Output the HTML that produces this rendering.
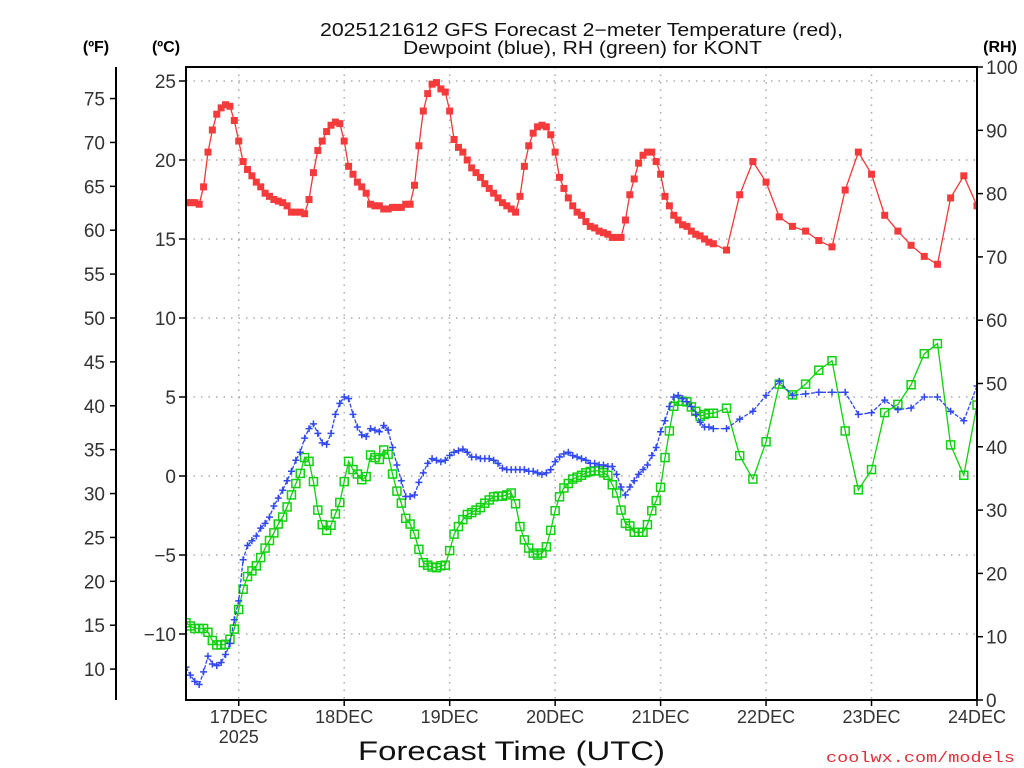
<!DOCTYPE html>
<html><head><meta charset="utf-8"><style>
html,body{margin:0;padding:0;background:#fff;}
svg{display:block;font-family:"Liberation Sans",sans-serif;}
</style></head><body>
<svg id="chart" width="1024" height="768" viewBox="0 0 1024 768" xmlns="http://www.w3.org/2000/svg">
<defs><clipPath id="plotclip"><rect x="186" y="67" width="791" height="633"/></clipPath></defs>
<text x="320" y="36" font-size="18" textLength="523" lengthAdjust="spacingAndGlyphs" fill="#111">2025121612 GFS Forecast 2−meter Temperature (red),</text>
<text x="403" y="54" font-size="18" textLength="359" lengthAdjust="spacingAndGlyphs" fill="#111">Dewpoint (blue), RH (green) for KONT</text>
<text x="96" y="52" font-size="16" font-weight="bold" text-anchor="middle">(ºF)</text>
<text x="166" y="52" font-size="16" font-weight="bold" text-anchor="middle">(ºC)</text>
<text x="1000" y="52" font-size="16" font-weight="bold" text-anchor="middle">(RH)</text>
<g id="grid"></g>
<g id="axes"></g>
<g id="series" clip-path="url(#plotclip)"></g>
<rect x="186" y="67" width="791" height="633" fill="none" stroke="#000" stroke-width="2"/>
<line x1="116" y1="67" x2="116" y2="700" stroke="#000" stroke-width="2"/>
<text x="358" y="760" font-size="27" textLength="307" lengthAdjust="spacingAndGlyphs" fill="#111">Forecast Time (UTC)</text>
<text x="826" y="762" font-size="15" textLength="189" lengthAdjust="spacingAndGlyphs" fill="#e0303a" font-family="Liberation Mono, monospace">coolwx.com/models</text>
</svg>
<script>
const celsiusTicks=[25,20,15,10,5,0,-5,-10];
const fahrenheitTicks=[75,70,65,60,55,50,45,40,35,30,25,20,15,10];
const rhTicks=[100,90,80,70,60,50,40,30,20,10,0];
const dayLabels=["17DEC","18DEC","19DEC","20DEC","21DEC","22DEC","23DEC","24DEC"];
const dayHours=[12,36,60,84,108,132,156,180];
const tempC=[17.3,17.3,17.3,17.2,18.3,20.5,21.9,22.9,23.3,23.5,
23.4,22.5,21.2,19.9,19.4,19.0,18.6,18.3,17.9,17.7,
17.5,17.4,17.3,17.1,16.7,16.7,16.7,16.6,17.5,19.2,
20.6,21.2,21.8,22.2,22.4,22.3,21.2,19.6,19.1,18.6,
18.3,17.9,17.2,17.1,17.1,16.9,16.9,17.0,17.0,17.0,
17.2,17.2,18.4,20.9,23.1,24.2,24.8,24.9,24.5,24.3,
23.1,21.3,20.8,20.5,20.0,19.5,19.2,18.9,18.5,18.2,
17.9,17.6,17.3,17.1,16.9,16.7,17.7,19.6,20.9,21.7,
22.1,22.2,22.1,21.6,20.5,18.9,18.2,17.6,17.1,16.7,
16.5,16.1,15.8,15.7,15.5,15.4,15.3,15.1,15.1,15.1,
16.2,17.8,18.8,19.8,20.3,20.5,20.5,19.9,19.1,17.7,
17.1,16.5,16.2,15.9,15.8,15.5,15.3,15.2,15.0,14.8,
14.7,
14.3,17.8,19.9,18.6,16.4,15.8,15.5,14.9,14.5,18.1,20.5,19.1,16.5,15.5,14.6,13.9,13.4,17.6,19.0,17.1];
const dewC=[-12.1,-12.6,-13.0,-13.2,-12.4,-11.4,-11.9,-12.0,-11.8,-11.3,
-10.6,-9.1,-7.9,-5.3,-4.4,-4.1,-3.8,-3.3,-3.0,-2.6,
-1.9,-1.4,-0.9,-0.3,0.3,1.0,1.5,2.4,3.0,3.3,
2.7,2.1,2.0,2.7,3.9,4.6,5.0,4.9,3.9,3.1,
2.6,2.5,3.0,2.9,2.8,3.2,2.9,1.8,0.7,-0.3,
-1.3,-1.3,-1.2,
-0.4,0.2,0.8,1.1,1.0,0.9,1.0,1.3,1.5,1.6,
1.7,1.5,1.2,1.2,1.1,1.1,1.1,1.0,0.8,0.5,
0.4,0.4,0.4,0.4,0.4,0.3,0.3,0.2,0.1,0.2,
0.4,0.9,1.2,1.4,1.5,1.3,1.2,1.1,1.0,0.8,
0.8,0.7,0.7,0.6,0.6,0.1,-0.7,-1.2,-0.7,-0.3,
0.1,
0.4,0.7,1.3,1.8,2.8,3.5,4.4,5.0,5.1,4.9,4.7,4.4,3.9,3.4,3.1,3.1,3.0,
3.0,3.6,4.1,5.1,6.0,5.1,5.2,5.3,5.3,5.3,3.9,4.0,4.8,4.2,4.3,5.0,5.0,4.1,3.5,5.7];
const rhPct=[12.2,11.7,11.3,11.3,11.3,10.7,9.4,8.7,8.7,8.8,
9.6,11.2,14.3,17.5,19.5,20.4,21.2,22.5,24.0,25.2,
26.4,27.8,28.9,30.5,32.4,34.2,35.8,38.3,37.7,34.5,
30.0,27.7,26.8,27.6,29.4,31.2,34.5,37.7,36.4,35.7,
34.8,35.3,38.7,38.3,38.0,39.5,38.8,35.7,33.0,31.1,
28.7,27.8,26.2,23.8,21.7,21.3,21.0,20.9,
21.2,21.3,23.6,26.2,27.4,28.5,29.3,29.6,30.0,30.4,
31.1,31.6,32.1,32.2,32.2,32.4,32.7,31.0,27.4,25.3,
24.0,23.2,22.9,23.2,24.2,26.8,29.9,32.1,33.5,34.2,
34.9,35.2,35.5,35.9,36.1,36.2,36.2,35.9,35.5,34.0,
32.7,30.0,27.9,27.5,26.5,26.5,26.5,27.7,29.9,31.5,
33.6,38.3,42.5,46.4,47.2,47.2,47.1,46.3,45.6,44.8,45.1,45.3,45.3,
46.1,38.6,34.9,40.8,49.9,48.2,49.9,52.1,53.6,42.5,33.2,36.4,45.4,46.7,49.8,54.7,56.3,40.3,35.5,46.6];
const forecastHours=[];
for(let h=0;h<=120;h++)forecastHours.push(h);
for(let h=123;h<=180;h+=3)forecastHours.push(h);

const NS="http://www.w3.org/2000/svg";
const xS=h=>186+h*(791/180);
const yC=c=>476-c*15.8;
const yRH=r=>700-r*6.33;
function mk(tag,attrs,parent){const e=document.createElementNS(NS,tag);for(const k in attrs)e.setAttribute(k,attrs[k]);parent.appendChild(e);return e;}
const grid=document.getElementById('grid'),axes=document.getElementById('axes'),series=document.getElementById('series');

celsiusTicks.forEach(c=>{
  const y=yC(c);
  const g=mk('line',{x1:186,x2:977,y1:y,y2:y,stroke:'#aaa','stroke-width':1.5,'stroke-dasharray':'1.5 6'},grid);
  
  
  const t=mk('line',{x1:179,x2:186,y1:y,y2:y,stroke:'#000','stroke-width':1.5},axes);
  
  
  const l=mk('text',{x:176,y:y+7,'font-size':19,'text-anchor':'end',fill:'#333'},axes);
  l.textContent=c<0?'−'+Math.abs(c):String(c);
  
  
});
fahrenheitTicks.forEach(f=>{
  const y=yC((f-32)*5/9);
  const t=mk('line',{x1:110,x2:116,y1:y,y2:y,stroke:'#000','stroke-width':1.5},axes);
  
  
  const l=mk('text',{x:105,y:y+7,'font-size':19,'text-anchor':'end',fill:'#333'},axes);
  l.textContent=String(f);
  
  
});
rhTicks.forEach(r=>{
  const y=yRH(r);
  const t=mk('line',{x1:977,x2:983,y1:y,y2:y,stroke:'#000','stroke-width':1.5},axes);
  
  
  const l=mk('text',{x:986,y:y+7,'font-size':19,'text-anchor':'start',fill:'#333'},axes);
  l.textContent=String(r);
  
  
});
dayHours.forEach((h,i)=>{
  const x=xS(h);
  if(i<dayHours.length-1){
    const g=mk('line',{x1:x,x2:x,y1:67,y2:700,stroke:'#aaa','stroke-width':1.5,'stroke-dasharray':'1.5 6'},grid);
    
    
  }
  const t=mk('line',{x1:x,x2:x,y1:700,y2:706,stroke:'#000','stroke-width':1.5},axes);
  
  
  const l=mk('text',{x:x,y:723,'font-size':18,'text-anchor':'middle',fill:'#333'},axes);
  l.textContent=dayLabels[i];
  
  
});
const yl=mk('text',{x:xS(12),y:743,'font-size':18,'text-anchor':'middle',fill:'#333'},axes);
yl.textContent='2025';



function drawLine(vals,yf,color,name,dash){
  const n=Math.min(vals.length,forecastHours.length);
  let d='';
  for(let i=0;i<n;i++)d+=(i?'L':'M')+xS(forecastHours[i]).toFixed(1)+' '+yf(vals[i]).toFixed(1);
  const p=mk('path',{d:d,fill:'none',stroke:color,'stroke-width':1.3},series);
  if(dash)p.setAttribute('stroke-dasharray',dash);
  
  
  return n;
}
let n=drawLine(rhPct,yRH,'#10d010','rh-line');
for(let i=0;i<n;i++){
  const r=mk('rect',{x:xS(forecastHours[i])-4,y:yRH(rhPct[i])-4,width:8,height:8,fill:'none',stroke:'#10d010','stroke-width':1.5},series);
  
  
}
n=drawLine(dewC,yC,'#3048f0','dewpoint-line','4 1.5');
for(let i=0;i<n;i++){
  const x=xS(forecastHours[i]),y=yC(dewC[i]);
  const m=mk('path',{d:`M${x-3.5} ${y}H${x+3.5}M${x} ${y-3.5}V${y+3.5}`,stroke:'#3048f0','stroke-width':1.5,fill:'none'},series);
  
  
}
n=drawLine(tempC,yC,'#f03838','temperature-line');
for(let i=0;i<n;i++){
  const r=mk('rect',{x:xS(forecastHours[i])-3.5,y:yC(tempC[i])-3.5,width:7,height:7,fill:'#f43a3a'},series);
  
  
}
</script>
</body></html>
